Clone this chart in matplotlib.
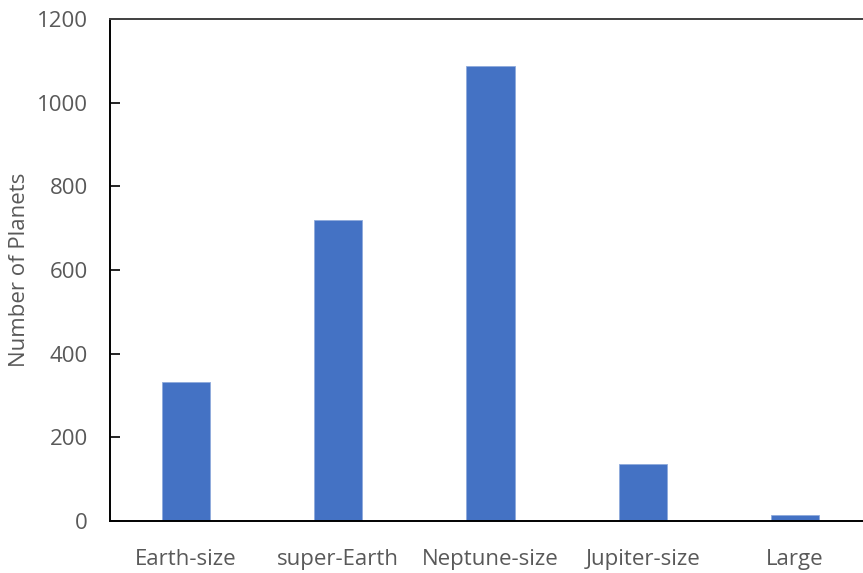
import matplotlib
matplotlib.use("Agg")
import matplotlib.pyplot as plt

categories = ["Earth-size", "super-Earth", "Neptune-size", "Jupiter-size", "Large"]
counts = [333, 720, 1088, 136, 14]
y_ticks = [0, 200, 400, 600, 800, 1000, 1200]

plt.rcParams["font.family"] = ["Open Sans", "DejaVu Sans"]
text_color = "#595959"

fig = plt.figure(figsize=(8.63, 5.73), dpi=100)
ax = fig.add_axes([110 / 863, 52 / 573, 761 / 863, 502 / 573])

x = range(len(categories))
ax.bar(x, counts, width=0.316, color="#4472C4", edgecolor="#8FAADC", linewidth=0.6)

ax.set_xlim(-0.5, len(categories) - 0.5)
ax.set_ylim(0, 1200)
ax.set_yticks(y_ticks)
ax.set_xticks(list(x))
ax.set_xticklabels(categories)

ax.tick_params(axis="y", direction="in", length=7, width=1.2, color="black",
               labelsize=16, labelcolor=text_color, pad=16)
ax.tick_params(axis="x", length=0, labelsize=16, labelcolor=text_color, pad=20)

for side in ("left", "bottom"):
    ax.spines[side].set_color("black")
    ax.spines[side].set_linewidth(1.4)
ax.spines["top"].set_color("#404040")
ax.spines["top"].set_linewidth(1.4)
ax.spines["right"].set_visible(False)

ax.set_ylabel("Number of Planets", fontsize=16, color=text_color, va="center")
ax.yaxis.set_label_coords(-90 / 761, 0.5)

fig.savefig("out.png", dpi=100)
